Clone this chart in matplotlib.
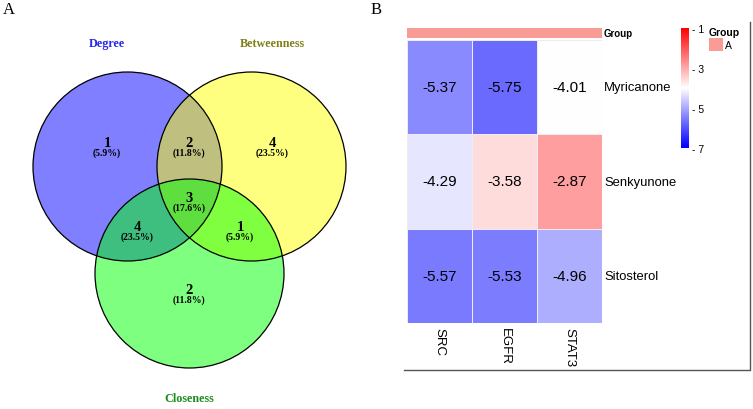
import numpy as np
import matplotlib
matplotlib.use("Agg")
import matplotlib.pyplot as plt
from matplotlib.patches import Circle, Rectangle
from matplotlib.colors import LinearSegmentedColormap

# Venn data (panel A)
sets = ["Degree", "Betweenness", "Closeness"]
set_colors = ["#0000ff", "#ffff00", "#00ff00"]
label_colors = ["#2626f0", "#80801a", "#1f8c1f"]
# regions: D only, D&B, B only, D&B&C, D&C, B&C, C only
region_counts = [1, 2, 4, 3, 4, 1, 2]

# Heatmap data (panel B)
genes = ["SRC", "EGFR", "STAT3"]
compounds = ["Myricanone", "Senkyunone", "Sitosterol"]
scores = [[-5.37, -5.75, -4.01],
          [-4.29, -3.58, -2.87],
          [-5.57, -5.53, -4.96]]
cbar_ticks = [-1, -3, -5, -7]
group_name = "A"
group_color = "#f99c96"

W, H = 753, 410
fig = plt.figure(figsize=(W / 100, H / 100), dpi=100)


def px_axes(x0, y0, x1, y1):
    return fig.add_axes([x0 / W, 1 - y1 / H, (x1 - x0) / W, (y1 - y0) / H])


serif = "Liberation Serif"
sans = "Liberation Sans"

# ---- Panel A: Venn ----
ax = px_axes(0, 0, W, H)
ax.set_xlim(0, W)
ax.set_ylim(H, 0)
ax.axis("off")

centers = [(127.5, 167.5), (251.5, 167.5), (189.5, 274.5)]
r = 94.5
for (cx, cy), c in zip(centers, set_colors):
    ax.add_patch(Circle((cx, cy), r, facecolor=c, alpha=0.5, edgecolor="none"))
for (cx, cy) in centers:
    ax.add_patch(Circle((cx, cy), r, facecolor="none", edgecolor="black", lw=0.9))

total = sum(region_counts)
region_pos = [(107, 143), (189, 143), (272, 143), (189, 198),
              (137, 227), (240, 227), (189, 290)]
for (x, y), n in zip(region_pos, region_counts):
    ax.text(x, y + 4, str(n), ha="center", va="baseline", fontsize=10.5,
            fontweight="bold", family=serif)
    ax.text(x, y + 5.5, f"({n / total * 100:.1f}%)", ha="center", va="top",
            fontsize=7, fontweight="bold", family=serif)

label_pos = [(107, 44), (272, 44), (189, 399)]
for (x, y), s, c in zip(label_pos, sets, label_colors):
    ax.text(x, y, s, ha="center", va="center", fontsize=8.7, fontweight="bold",
            family=serif, color=c)

ax.text(3, 10, "A", ha="left", va="center", fontsize=12, family=serif)
ax.text(371, 10, "B", ha="left", va="center", fontsize=12, family=serif)

# frame of panel B
ax.plot([404, 750.5, 750.5], [371, 371, 23], color="#555555", lw=1)

# ---- Panel B: heatmap ----
cmap = LinearSegmentedColormap.from_list("bwr3", ["blue", "white", "red"])
hx = px_axes(407, 41, 602, 324)
vals = np.array(scores)
hx.pcolormesh(vals, cmap=cmap, vmin=-7, vmax=-1, edgecolors="#ececf2", linewidth=0.5)
hx.set_xlim(0, len(genes))
hx.set_ylim(len(compounds), 0)
hx.axis("off")
for i in range(len(compounds)):
    for j in range(len(genes)):
        hx.text(j + 0.5, i + 0.5, f"{scores[i][j]:.2f}", ha="center", va="center",
                fontsize=11, family=sans)
for i, name in enumerate(compounds):
    hx.text(1.012, 1 - (i + 0.5) / len(compounds), name, transform=hx.transAxes,
            ha="left", va="center", fontsize=9.4, family=sans)
for j, g in enumerate(genes):
    hx.text((j + 0.5) / len(genes), -0.015, g, transform=hx.transAxes,
            ha="center", va="top", rotation=270, fontsize=9.5, family=sans)

# group annotation bar
gx = px_axes(407, 29, 602, 39)
gx.add_patch(Rectangle((0, 0), 1, 1, facecolor=group_color, edgecolor="none"))
gx.set_xlim(0, 1)
gx.set_ylim(0, 1)
gx.axis("off")
gx.text(1.01, 0.5, "Group", transform=gx.transAxes, ha="left", va="center",
        fontsize=7, fontweight="bold", family=sans)

# colorbar
cx_ax = px_axes(681, 29, 689, 149)
grad = np.linspace(-1, -7, 200).reshape(-1, 1)
cx_ax.imshow(grad, cmap=cmap, vmin=-7, vmax=-1, aspect="auto",
             extent=[0, 1, -7, -1])
cx_ax.set_xticks([])
cx_ax.yaxis.tick_right()
cx_ax.set_yticks(cbar_ticks)
cx_ax.set_yticklabels([f"- {abs(t)}" for t in cbar_ticks], fontsize=7.5, family=sans)
cx_ax.tick_params(axis="y", length=0, pad=2)
for s in cx_ax.spines.values():
    s.set_visible(False)

# group legend
ax.text(709, 33, "Group", ha="left", va="center", fontsize=7.5,
        fontweight="bold", family=sans)
ax.add_patch(Rectangle((709, 39), 14, 13, facecolor=group_color, edgecolor="none"))
ax.text(725, 46, group_name, ha="left", va="center", fontsize=7.5, family=sans)

fig.savefig("out.png", dpi=100)
